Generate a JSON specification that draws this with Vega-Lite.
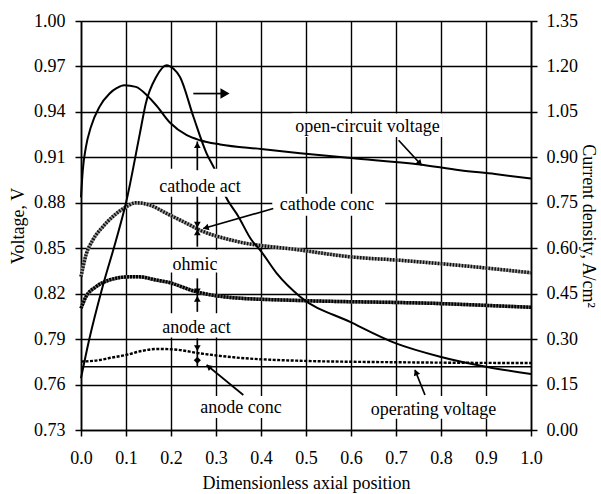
{
  "$schema": "https://vega.github.io/schema/vega-lite/v6.json",
  "width": 450,
  "height": 409,
  "autosize": {"type": "none"},
  "padding": {"left": 81, "top": 21, "right": 70, "bottom": 64},
  "background": "white",
  "config": {
    "view": {"stroke": null},
    "axis": {"domainColor": "#000", "domainWidth": 1.6, "tickColor": "#000", "tickWidth": 1.5, "tickSize": 6,
      "labelFont": "Liberation Serif", "labelFontSize": 18, "labelColor": "#000", "labelFlush": false,
      "titleFont": "Liberation Serif", "titleFontSize": 18, "titleFontWeight": "normal", "titleColor": "#000",
      "gridColor": "#000", "gridWidth": 1.4, "gridOpacity": 1},
    "text": {"font": "Liberation Serif", "fontSize": 18}
  },
  "datasets": {
    "ocv": [{"x":0,"v":0.8836},{"x":0.004,"v":0.9015},{"x":0.011,"v":0.9169},{"x":0.022,"v":0.930},{"x":0.041,"v":0.9433},{"x":0.063,"v":0.952},{"x":0.08,"v":0.9558},{"x":0.096,"v":0.9576},{"x":0.122,"v":0.9565},{"x":0.148,"v":0.9505},{"x":0.167,"v":0.9444},{"x":0.198,"v":0.9328},{"x":0.235,"v":0.9246},{"x":0.264,"v":0.9213},{"x":0.309,"v":0.9185},{"x":0.4,"v":0.9155},{"x":0.487,"v":0.9127},{"x":0.6,"v":0.9095},{"x":0.753,"v":0.9053},{"x":0.842,"v":0.9015},{"x":0.92,"v":0.899},{"x":1.0,"v":0.896}],
    "cur": [{"x":0,"i":0.171},{"x":0.018,"i":0.297},{"x":0.048,"i":0.473},{"x":0.078,"i":0.627},{"x":0.1,"i":0.75},{"x":0.131,"i":0.98},{"x":0.144,"i":1.078},{"x":0.167,"i":1.165},{"x":0.19,"i":1.204},{"x":0.205,"i":1.193},{"x":0.22,"i":1.165},{"x":0.25,"i":1.033},{"x":0.279,"i":0.913},{"x":0.298,"i":0.858},{"x":0.32,"i":0.775},{"x":0.35,"i":0.704},{"x":0.379,"i":0.627},{"x":0.398,"i":0.594},{"x":0.435,"i":0.517},{"x":0.487,"i":0.44},{"x":0.598,"i":0.357},{"x":0.7,"i":0.286},{"x":0.798,"i":0.242},{"x":0.9,"i":0.209},{"x":1.0,"i":0.185}],
    "cat": [{"x":0,"v":0.8312},{"x":0.011,"v":0.8455},{"x":0.026,"v":0.8553},{"x":0.048,"v":0.864},{"x":0.07,"v":0.8707},{"x":0.1,"v":0.8773},{"x":0.122,"v":0.880},{"x":0.153,"v":0.8785},{"x":0.19,"v":0.873},{"x":0.235,"v":0.8664},{"x":0.264,"v":0.862},{"x":0.339,"v":0.855},{"x":0.487,"v":0.8488},{"x":0.598,"v":0.8443},{"x":0.709,"v":0.842},{"x":0.857,"v":0.8382},{"x":1.0,"v":0.8338}],
    "ohm": [{"x":0,"v":0.8103},{"x":0.011,"v":0.818},{"x":0.033,"v":0.8245},{"x":0.063,"v":0.829},{"x":0.107,"v":0.8311},{"x":0.13,"v":0.8311},{"x":0.167,"v":0.829},{"x":0.19,"v":0.8278},{"x":0.257,"v":0.8212},{"x":0.339,"v":0.8173},{"x":0.487,"v":0.8155},{"x":0.783,"v":0.8136},{"x":1.0,"v":0.811}],
    "ano": [{"x":0,"v":0.7752},{"x":0.02,"v":0.7755},{"x":0.042,"v":0.7762},{"x":0.063,"v":0.7775},{"x":0.1,"v":0.7795},{"x":0.135,"v":0.7822},{"x":0.17,"v":0.7835},{"x":0.206,"v":0.7832},{"x":0.264,"v":0.7806},{"x":0.339,"v":0.778},{"x":0.487,"v":0.7757},{"x":0.709,"v":0.7747},{"x":1.0,"v":0.7742}],
    "op": [{"x":0,"v":0.7718},{"x":1,"v":0.7718}],
    "boxes": [{"x":0.165,"x2":0.365,"v":0.884,"v2":0.9025},{"x":0.425,"x2":0.676,"v":0.8715,"v2":0.886},{"x":0.469,"x2":0.804,"v":0.9235,"v2":0.939},{"x":0.195,"x2":0.31,"v":0.834,"v2":0.849},{"x":0.17,"x2":0.345,"v":0.791,"v2":0.807},{"x":0.258,"x2":0.458,"v":0.738,"v2":0.7524},{"x":0.64,"x2":0.93,"v":0.7375,"v2":0.7525}],
    "labels": [{"t":"cathode act","x":0.2644,"v":0.8872},{"t":"cathode conc","x":0.5467,"v":0.8751},{"t":"open-circuit voltage","x":0.6367,"v":0.9268},{"t":"ohmic","x":0.2533,"v":0.8355},{"t":"anode act","x":0.2567,"v":0.7938},{"t":"anode conc","x":0.3556,"v":0.741},{"t":"operating voltage","x":0.7833,"v":0.7399}],
    "segs": [{"x":0.2585,"v":0.9015,"x2":0.2585,"v2":0.9205},{"x":0.2585,"v":0.884,"x2":0.2585,"v2":0.851},{"x":0.2585,"v":0.8301,"x2":0.2585,"v2":0.808},{"x":0.2585,"v":0.7905,"x2":0.2585,"v2":0.772},{"x":0.7058,"v":0.9213,"x2":0.757,"v2":0.9048},{"x":0.4273,"v":0.8762,"x2":0.2718,"v2":0.863},{"x":0.3607,"v":0.7531,"x2":0.2793,"v2":0.7729},{"x":0.7644,"v":0.7531,"x2":0.7422,"v2":0.7696},{"x":0.2496,"v":0.9521,"x2":0.32,"v2":0.9521}],
    "up": [{"x":0.2585,"v":0.918},{"x":0.2585,"v":0.8605},{"x":0.2585,"v":0.8165}],
    "down": [{"x":0.2585,"v":0.8655},{"x":0.2585,"v":0.8215},{"x":0.2585,"v":0.784}],
    "dia": [{"x":0.2585,"v":0.776}],
    "right": [{"x":0.32,"v":0.9521}],
    "hOcv": [{"x":0.7517,"v":0.9065}],
    "hCat": [{"x":0.2793,"v":0.8636}],
    "hAno": [{"x":0.2853,"v":0.7714}],
    "hOp": [{"x":0.7451,"v":0.7675}]
  },
  "layer": [
    {
      "encoding": {
        "x": {"field": "x", "type": "quantitative", "scale": {"domain": [0, 1], "nice": false, "zero": false},
          "axis": {"values": [0,0.1,0.2,0.3,0.4,0.5,0.6,0.7,0.8,0.9,1.0], "format": ".1f", "title": "Dimensionless axial position", "grid": true, "labelPadding": 13, "titlePadding": 7}},
        "y": {"field": "v", "type": "quantitative", "scale": {"domain": [0.73, 1.0], "nice": false, "zero": false},
          "axis": {"values": [0.73,0.76,0.79,0.82,0.85,0.88,0.91,0.94,0.97,1.0], "format": ".2f", "title": "Voltage, V", "grid": true, "labelPadding": 10, "titlePadding": 6}}
      },
      "layer": [
        {"data": {"name": "ocv"}, "mark": {"type": "line", "color": "#000", "strokeWidth": 2, "interpolate": "monotone"}},
        {"data": {"name": "cat"}, "mark": {"type": "line", "color": "#999", "strokeWidth": 3.5, "interpolate": "monotone"}},
        {"data": {"name": "cat"}, "mark": {"type": "line", "color": "#111", "strokeWidth": 3.5, "strokeDash": [1.5, 1.5], "interpolate": "monotone"}},
        {"data": {"name": "ohm"}, "mark": {"type": "line", "color": "#777", "strokeWidth": 3.5, "interpolate": "monotone"}},
        {"data": {"name": "ohm"}, "mark": {"type": "line", "color": "#000", "strokeWidth": 3.5, "strokeDash": [2, 1], "interpolate": "monotone"}},
        {"data": {"name": "ano"}, "mark": {"type": "line", "color": "#000", "strokeWidth": 2.4, "strokeDash": [3, 1.5], "interpolate": "monotone"}},
        {"data": {"name": "op"}, "mark": {"type": "line", "color": "#000", "strokeWidth": 1.6}}
      ]
    },
    {
      "data": {"name": "cur"},
      "mark": {"type": "line", "color": "#000", "strokeWidth": 2, "interpolate": "monotone"},
      "encoding": {
        "x": {"field": "x", "type": "quantitative", "scale": {"domain": [0, 1], "nice": false, "zero": false},
          "axis": {"values": [0,0.1,0.2,0.3,0.4,0.5,0.6,0.7,0.8,0.9,1.0], "format": ".1f", "title": "Dimensionless axial position", "grid": true, "labelPadding": 13, "titlePadding": 7}},
        "y": {"field": "i", "type": "quantitative", "scale": {"domain": [0, 1.35], "nice": false, "zero": false},
          "axis": {"orient": "right", "values": [0,0.15,0.3,0.45,0.6,0.75,0.9,1.05,1.2,1.35], "format": ".2f", "title": "Current density, A/cm²", "grid": false, "labelPadding": 9, "titlePadding": 1}}
      }
    },
    {
      "encoding": {
        "x": {"field": "x", "type": "quantitative", "scale": {"domain": [0, 1], "nice": false, "zero": false},
          "axis": {"values": [0,0.1,0.2,0.3,0.4,0.5,0.6,0.7,0.8,0.9,1.0], "format": ".1f", "title": "Dimensionless axial position", "grid": true, "labelPadding": 13, "titlePadding": 7}},
        "y": {"field": "v", "type": "quantitative", "scale": {"domain": [0.73, 1.0], "nice": false, "zero": false}, "axis": null}
      },
      "layer": [
        {"data": {"name": "boxes"}, "mark": {"type": "rect", "color": "white"}, "encoding": {"x2": {"field": "x2"}, "y2": {"field": "v2"}}},
        {"data": {"name": "labels"}, "mark": {"type": "text", "align": "center", "baseline": "alphabetic", "color": "#000"}, "encoding": {"text": {"field": "t"}}},
        {"data": {"name": "segs"}, "mark": {"type": "rule", "color": "#000", "strokeWidth": 1.7}, "encoding": {"x2": {"field": "x2"}, "y2": {"field": "v2"}}},
        {"data": {"name": "up"}, "mark": {"type": "point", "shape": "triangle-up", "filled": true, "color": "#000", "opacity": 1, "size": 45}},
        {"data": {"name": "down"}, "mark": {"type": "point", "shape": "triangle-down", "filled": true, "color": "#000", "opacity": 1, "size": 45}},
        {"data": {"name": "dia"}, "mark": {"type": "point", "shape": "diamond", "filled": true, "color": "#000", "opacity": 1, "size": 50}},
        {"data": {"name": "right"}, "mark": {"type": "point", "shape": "triangle-right", "filled": true, "color": "#000", "opacity": 1, "size": 110}},
        {"data": {"name": "hOcv"}, "mark": {"type": "point", "shape": "triangle", "angle": 137, "filled": true, "color": "#000", "opacity": 1, "size": 45}},
        {"data": {"name": "hCat"}, "mark": {"type": "point", "shape": "triangle", "angle": 254, "filled": true, "color": "#000", "opacity": 1, "size": 45}},
        {"data": {"name": "hAno"}, "mark": {"type": "point", "shape": "triangle", "angle": 309, "filled": true, "color": "#000", "opacity": 1, "size": 45}},
        {"data": {"name": "hOp"}, "mark": {"type": "point", "shape": "triangle", "angle": 338, "filled": true, "color": "#000", "opacity": 1, "size": 45}}
      ]
    }
  ],
  "resolve": {"scale": {"y": "independent"}}
}
